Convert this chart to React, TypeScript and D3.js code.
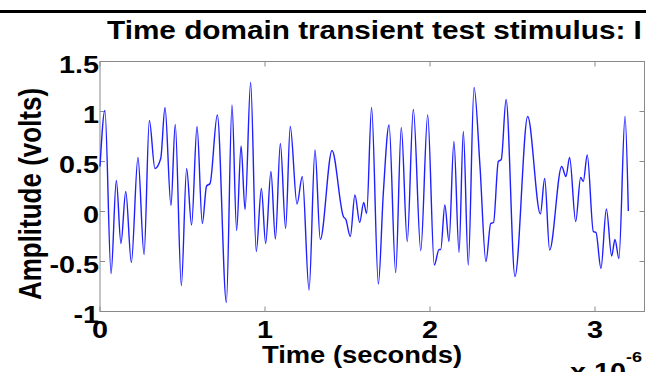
import React, { useEffect, useRef } from "react";
import * as d3 from "d3";

// Transient test stimulus, sampled at its turning points (time in µs, amplitude in volts)
const timeMicros: number[] = [
  0, 0.03, 0.067, 0.099, 0.127, 0.156, 0.19, 0.23, 0.267, 0.299, 0.333, 0.368, 0.394,
  0.43, 0.456, 0.493, 0.525, 0.555, 0.588, 0.62, 0.646, 0.667, 0.711, 0.766, 0.8,
  0.828, 0.855, 0.879, 0.913, 0.947, 0.978, 1.004, 1.036, 1.063, 1.093, 1.125, 1.153,
  1.194, 1.226, 1.267, 1.303, 1.335, 1.406, 1.475, 1.49, 1.517, 1.545, 1.574, 1.598,
  1.616, 1.646, 1.687, 1.717, 1.752, 1.792, 1.826, 1.862, 1.899, 1.944, 1.986, 2.026,
  2.055, 2.065, 2.09, 2.115, 2.145, 2.176, 2.202, 2.232, 2.267, 2.303, 2.339, 2.368,
  2.385, 2.414, 2.432, 2.461, 2.515, 2.592, 2.669, 2.695, 2.725, 2.798, 2.824, 2.846,
  2.883, 2.913, 2.929, 2.953, 2.99, 3.006, 3.036, 3.069, 3.101, 3.121, 3.145, 3.182,
  3.202,
];
const amplitudeVolts: number[] = [
  0.45, 1.01, -0.62, 0.31, -0.32, 0.2, -0.51, 0.54, -0.43, 0.91, 0.43, 0.53, 1.04,
  0.06, 0.87, -0.74, 0.43, -0.135, 0.85, -0.12, 0.255, 0.28, 0.965, -0.91, 1.065,
  -0.19, 0.655, 0.02, 1.29, -0.4, 0.23, -0.32, 0.4, -0.275, 0.68, -0.17, 0.85,
  0.075, 0.35, -0.785, 0.615, -0.28, 0.61, -0.05, -0.08, -0.25, 0.165, -0.11, 0.09,
  -0.02, 1.04, -0.725, 0.18, 0.865, -0.61, 0.84, -0.3, 1.02, -0.39, 0.965, -0.535,
  -0.38, -0.38, 0.065, -0.3, 0.7, -0.41, 0.8, -0.535, 1.24, 0.45, -0.5, -0.12,
  -0.11, 0.5, 0.52, 1.12, -0.65, 0.95, -0.025, 0.33, -0.385, 0.45, 0.35, 0.54,
  -0.1, 0.34, 0.3, 0.565, -0.2, -0.21, -0.57, 0.025, -0.445, -0.28, -0.47, 0.95,
  0.005,
];

const xTicks: number[] = [0, 1, 2, 3];
const yTicks: number[] = [-1, -0.5, 0, 0.5, 1, 1.5];
const xDomain: [number, number] = [0, 3.3];
const yDomain: [number, number] = [-1, 1.5];

const W = 646;
const H = 372;
const plot = { left: 100, right: 644.5, top: 61.5, bottom: 311.5 };
const FONT = "'Liberation Sans', Arial, Helvetica, sans-serif";
// glyphs in this figure are drawn slightly wider than tall
const STRETCH = 1.2;

type Sel = d3.Selection<SVGSVGElement | null, unknown, null, undefined>;

function label(
  svg: Sel,
  x: number,
  y: number,
  text: string,
  opts: { size?: number; anchor?: string; sx?: number; rotate?: number } = {}
) {
  const { size = 24, anchor = "start", sx = STRETCH, rotate = 0 } = opts;
  const t = svg
    .append("text")
    .attr(
      "transform",
      rotate
        ? `translate(${x},${y}) rotate(${rotate}) scale(1,${sx})`
        : `translate(${x},${y}) scale(${sx},1)`
    )
    .attr("font-family", FONT)
    .attr("font-weight", "bold")
    .attr("font-size", size)
    .attr("fill", "#000")
    .attr("text-anchor", anchor);
  t.text(text);
  return t;
}

export default function App() {
  const ref = useRef<SVGSVGElement | null>(null);

  useEffect(() => {
    const svg = d3.select(ref.current) as Sel;
    svg.selectAll("*").remove();

    const x = d3.scaleLinear().domain(xDomain).range([plot.left, plot.right]);
    const y = d3.scaleLinear().domain(yDomain).range([plot.bottom, plot.top]);

    svg.append("rect").attr("width", W).attr("height", H).attr("fill", "#fff");

    // rule across the top of the figure
    svg.append("line")
      .attr("x1", 0).attr("x2", W).attr("y1", 11.5).attr("y2", 11.5)
      .attr("stroke", "#000").attr("stroke-width", 3);

    label(svg, 107, 39, "Time domain transient test stimulus: I", { size: 25, sx: 1.19 });

    // axes box
    svg.append("rect")
      .attr("x", plot.left).attr("y", plot.top)
      .attr("width", plot.right - plot.left).attr("height", plot.bottom - plot.top)
      .attr("fill", "none").attr("stroke", "#8a8a8a").attr("stroke-width", 1);

    const tickLen = 5;
    const ticks = svg.append("g").attr("stroke", "#8a8a8a").attr("stroke-width", 1);
    xTicks.forEach((t) => {
      const px = x(t);
      ticks.append("line").attr("x1", px).attr("x2", px).attr("y1", plot.bottom).attr("y2", plot.bottom - tickLen);
      ticks.append("line").attr("x1", px).attr("x2", px).attr("y1", plot.top).attr("y2", plot.top + tickLen);
    });
    yTicks.forEach((v) => {
      const py = y(v);
      ticks.append("line").attr("x1", plot.left).attr("x2", plot.left + tickLen).attr("y1", py).attr("y2", py);
      ticks.append("line").attr("x1", plot.right).attr("x2", plot.right - tickLen).attr("y1", py).attr("y2", py);
    });

    xTicks.forEach((t) => {
      label(svg, x(t), plot.bottom + 26.5, d3.format("d")(t), { anchor: "middle" });
    });
    yTicks.forEach((v) => {
      label(svg, plot.left - 1, y(v) + 11.5, String(v), { anchor: "end" });
    });

    label(svg, 362, 363, "Time (seconds)", { anchor: "middle", sx: 1.14 });

    label(svg, 41, 194, "Amplitude (volts)", {
      anchor: "middle",
      size: 26,
      rotate: -90,
    });

    const exp = label(svg, 570, 380, "");
    exp.append("tspan").text("x 10");
    exp.append("tspan").attr("dy", -18).attr("font-size", 15).text("-6");

    const data = timeMicros.map((t, i) => [t, amplitudeVolts[i]] as [number, number]);
    const line = d3.line<[number, number]>()
      .x((d) => x(d[0]))
      .y((d) => y(d[1]))
      .curve(d3.curveMonotoneX);

    svg.append("path")
      .attr("d", line(data) ?? "")
      .attr("fill", "none")
      .attr("stroke", "#2020ff")
      .attr("stroke-width", 1.4)
      .attr("stroke-linejoin", "round");
  }, []);

  return (
    <svg
      ref={ref}
      width={W}
      height={H}
      style={{ position: "absolute", left: 0, top: 0, display: "block" }}
    />
  );
}
